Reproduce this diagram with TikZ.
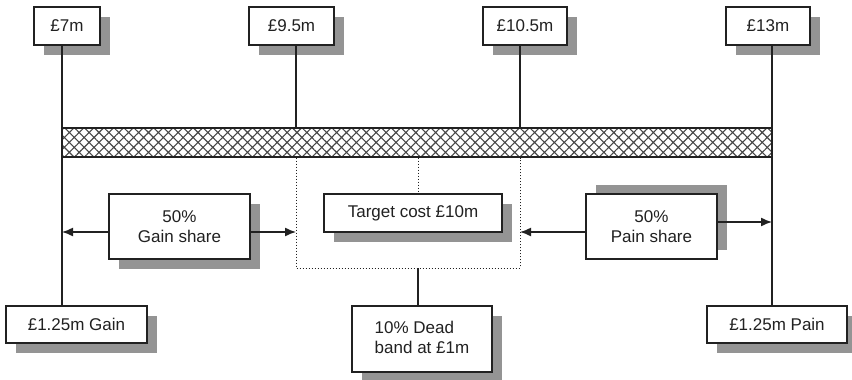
\documentclass[tikz,border=0pt]{standalone}
\usepackage{fontspec}
\setmainfont{Liberation Sans}
\usetikzlibrary{shadows, patterns.meta, arrows.meta}
\definecolor{shade}{gray}{0.58}
\definecolor{ink}{gray}{0.13}

\begin{document}
\begin{tikzpicture}[x=1pt, y=-1pt, line width=1.4pt, color=ink,
	font=\fontsize{17}{20}\selectfont,
	box/.style={draw, fill=white, line width=1.8pt, inner sep=0pt, align=center,
		drop shadow={shadow xshift=10pt, shadow yshift=#1, fill=shade, opacity=1}},
	box/.default=-10pt,
	bar/.style={draw, inner sep=0pt, minimum width=710pt, minimum height=29pt,
		pattern={Hatch[angle=45, distance=7pt, line width=1.1pt]}, pattern color=black!72},
	arr/.style={-{Latex[length=11pt, width=9pt]}},
	band/.style={line width=1pt, dash pattern=on 1pt off 2pt}]
	\useasboundingbox (0,0) rectangle (852,380);

	\coordinate (xa) at (62,142);
	\coordinate (xb) at (296,142);
	\coordinate (xd) at (520,142);
	\coordinate (xe) at (772,142);
	\coordinate (bandbot) at (418,268);

	\node[box, minimum width=66pt, minimum height=38pt] (p7) at (67,26) {£7m};
	\node[box, minimum width=85pt, minimum height=38pt] (p95) at (291.5,26) {£9.5m};
	\node[box, minimum width=84pt, minimum height=38pt] (p105) at (525,26) {£10.5m};
	\node[box, minimum width=84pt, minimum height=38pt] (p13) at (768,26) {£13m};

	\node[box, minimum width=141pt, minimum height=37pt] (gainamt) at (76.5,324.5) {£1.25m Gain};
	\node[box, minimum width=140pt, minimum height=37pt] (painamt) at (777,324.5) {£1.25m Pain};

	\draw (p7.south -| xa) -- (gainamt.north -| xa);
	\draw (p13.south -| xe) -- (painamt.north -| xe);
	\draw (p95.south -| xb) -- (xb |- 0,128);
	\draw (p105.south -| xd) -- (xd |- 0,128);

	\node[bar] (bar) at (417,142.5) {};

	\node[box, minimum width=141pt, minimum height=65pt] (gain) at (179.5,226.5) {50\%\\Gain share};
	\node[box, minimum width=178pt, minimum height=38pt] (target) at (413,213) {Target cost £10m};
	\node[box=9pt, minimum width=131pt, minimum height=65pt] (pain) at (651.5,226.5) {50\%\\Pain share};
	\node[box, minimum width=140pt, minimum height=66pt] (dead) at (422,339)
		{\begin{tabular}{@{}l@{}}10\% Dead\\band at £1m\end{tabular}};

	\draw[band] (bar.south -| xb) |- (bandbot) -| (bar.south -| xd);
	\draw[band] (bar.south -| bandbot) -- (target.north -| bandbot);
	\draw (bandbot) -- (dead.north -| bandbot);

	\draw[arr] ([yshift=-5.5pt]gain.west) -- ([yshift=-5.5pt]gain.west -| xa);
	\draw[arr] ([yshift=-5.5pt]gain.east) -- ([yshift=-5.5pt]gain.east -| xb);
	\draw[arr] ([yshift=-5.5pt]pain.west) -- ([yshift=-5.5pt]pain.west -| xd);
	\draw[arr] ([yshift=4.5pt]pain.east) -- ([yshift=4.5pt]pain.east -| xe);
\end{tikzpicture}
\end{document}
